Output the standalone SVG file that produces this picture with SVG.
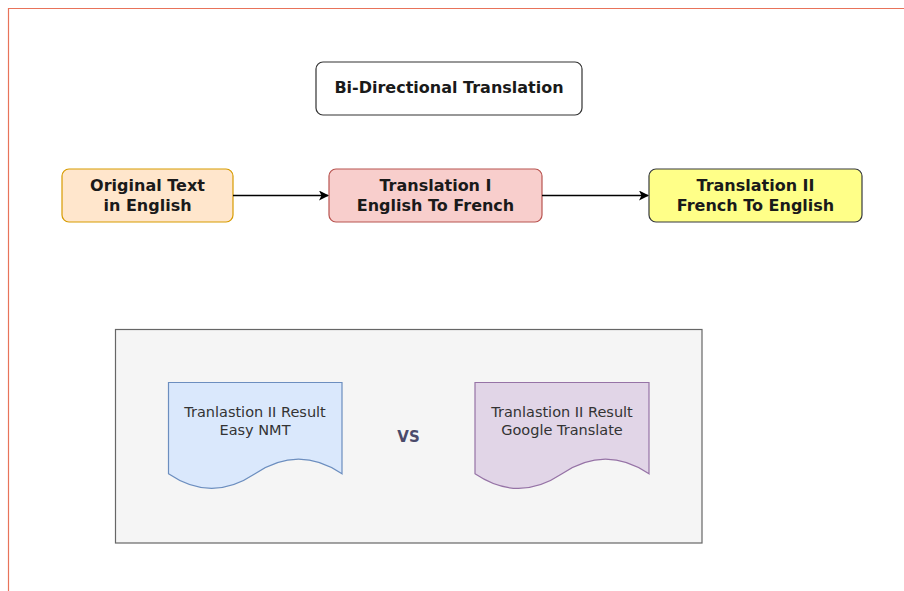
<svg xmlns="http://www.w3.org/2000/svg" width="904" height="591" viewBox="0 0 904 591">
<defs>
<style>
.b{font-family:"DejaVu Sans","Verdana",sans-serif;font-weight:bold;font-size:16px;fill:#1a1a1a;text-anchor:middle}
.r{font-family:"DejaVu Sans","Verdana",sans-serif;font-size:14.5px;fill:#333333;text-anchor:middle}
.edge{stroke:#000;stroke-width:1.3;fill:none}
</style>
<marker id="arr" viewBox="0 0 10 10" refX="9" refY="5" markerWidth="10" markerHeight="10" markerUnits="userSpaceOnUse" orient="auto">
<path d="M0,0 L10,5 L0,10 L2.5,5 Z" fill="#000"/>
</marker>
</defs>
<rect x="0" y="0" width="904" height="591" fill="#ffffff"/>
<path d="M8.5,591 V8.5 H904" fill="none" stroke="#e8735a" stroke-width="1.2"/>

<g id="title">
<rect x="316" y="62" width="266" height="53" rx="7" fill="#ffffff" stroke="#333333" stroke-width="1.2"/>
<text class="b" x="449" y="93">Bi-Directional Translation</text>
</g>

<g id="original">
<rect x="62" y="169" width="171" height="53" rx="7" fill="#ffe6cc" stroke="#d79b00" stroke-width="1.2"/>
<text class="b" x="147.5" y="190.5">Original Text</text>
<text class="b" x="147.5" y="210.5">in English</text>
</g>

<g id="trans1">
<rect x="329" y="169" width="213" height="53" rx="7" fill="#f8cecc" stroke="#b85450" stroke-width="1.2"/>
<text class="b" x="435.5" y="190.5">Translation I</text>
<text class="b" x="435.5" y="210.5">English To French</text>
</g>

<g id="trans2">
<rect x="649" y="169" width="213" height="53" rx="7" fill="#ffff88" stroke="#36393d" stroke-width="1.2"/>
<text class="b" x="755.5" y="190.5">Translation II</text>
<text class="b" x="755.5" y="210.5">French To English</text>
</g>

<g id="connectors">
<line class="edge" x1="233" y1="195.5" x2="328" y2="195.5" marker-end="url(#arr)"/>
<line class="edge" x1="542" y1="195.5" x2="648" y2="195.5" marker-end="url(#arr)"/>
</g>

<g id="compare">
<rect x="115.5" y="329.5" width="586.5" height="213.5" fill="#f5f5f5" stroke="#666666" stroke-width="1.2"/>
</g>

<g id="doc1">
<path d="M168.5,382.5 L342,382.5 L342,473.8 Q298.5,444.6 255,473.8 Q211.5,503 168.5,473.8 Z" fill="#dae8fc" stroke="#6c8ebf" stroke-width="1.2"/>
<text class="r" x="255" y="416.5">Tranlastion II Result</text>
<text class="r" x="255" y="435">Easy NMT</text>
</g>

<g id="vs">
<text x="408.5" y="442" font-family="DejaVu Sans, Verdana, sans-serif" font-weight="bold" font-size="15" fill="#4a4a6a" text-anchor="middle">VS</text>
</g>

<g id="doc2">
<path d="M475,382.5 L649,382.5 L649,473.8 Q605.5,444.6 562,473.8 Q518.5,503 475,473.8 Z" fill="#e1d5e7" stroke="#9673a6" stroke-width="1.2"/>
<text class="r" x="562" y="416.5">Tranlastion II Result</text>
<text class="r" x="562" y="435">Google Translate</text>
</g>
</svg>
